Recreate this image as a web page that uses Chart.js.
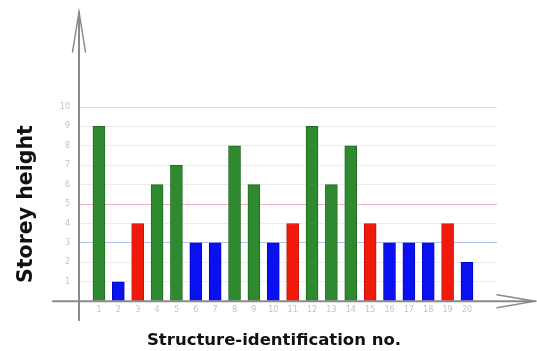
<!DOCTYPE html>
<html>
<head>
<meta charset="utf-8">
<script src="https://cdn.jsdelivr.net/npm/chart.js@4/dist/chart.umd.min.js"></script>
<style>
html,body{margin:0;padding:0;background:#fff;}
#wrap{width:537px;height:351px;position:relative;}
</style>
</head>
<body>
<div id="wrap"><canvas id="c" width="537" height="351"></canvas></div>
<script>
const categories = [1,2,3,4,5,6,7,8,9,10,11,12,13,14,15,16,17,18,19,20];
const storeyHeights = [9,1,4,6,7,3,3,8,6,3,4,9,6,8,4,3,3,3,4,2];
const groups = ['G','B','R','G','G','B','B','G','G','B','R','G','G','G','R','B','B','B','R','B'];
const yTicks = [1,2,3,4,5,6,7,8,9,10];
const xTitle = 'Structure-identification no.';
const yTitle = 'Storey height';

const fillColors = {G:'#2f8a2f', B:'#0a10f0', R:'#f01a0a'};
const edgeColors = {G:'#1f6a1f', B:'#0008c8', R:'#c81008'};
const gridColorFor = v => v === 10 ? '#c6efc6' : v === 5 ? '#f3b3b8' : v === 3 ? '#b3c3ef' : v === 0 ? 'rgba(0,0,0,0)' : '#ececec';

const axesPlugin = {
  id: 'axes',
  afterDraw(chart) {
    const ctx = chart.ctx, a = chart.chartArea;
    const y0 = chart.scales.y.getPixelForValue(0);
    ctx.save();
    ctx.strokeStyle = '#8a8a8a';
    ctx.lineWidth = 2;
    ctx.lineCap = 'round';
    const xa = a.left, topY = a.top - 95;
    ctx.beginPath();
    ctx.moveTo(xa, a.bottom + 19);
    ctx.lineTo(xa, topY);
    ctx.stroke();
    ctx.lineWidth = 1.5;
    ctx.beginPath();
    ctx.moveTo(xa - 6.5, topY + 40); ctx.lineTo(xa, topY); ctx.lineTo(xa + 6.5, topY + 40);
    ctx.stroke();
    ctx.lineWidth = 2;
    const tipX = a.right + 38;
    ctx.beginPath();
    ctx.moveTo(a.left - 26, y0);
    ctx.lineTo(tipX, y0);
    ctx.stroke();
    ctx.lineWidth = 1.5;
    ctx.beginPath();
    ctx.moveTo(tipX - 38, y0 - 6.5); ctx.lineTo(tipX, y0); ctx.lineTo(tipX - 38, y0 + 6.5);
    ctx.stroke();
    ctx.restore();
  }
};

new Chart(document.getElementById('c'), {
  type: 'bar',
  data: {
    datasets: [{
      data: categories.map((c, i) => ({x: c, y: storeyHeights[i]})),
      backgroundColor: groups.map(g => fillColors[g]),
      borderColor: groups.map(g => edgeColors[g]),
      borderWidth: 1,
      barThickness: 12
    }]
  },
  options: {
    responsive: false,
    animation: false,
    layout: {padding: {top: 107, right: 0, left: 11, bottom: 0}},
    plugins: {
      legend: {display: false},
      tooltip: {enabled: false},
      title: {
        display: true, position: 'bottom', text: xTitle, color: '#111',
        font: {family: 'DejaVu Sans', weight: 'bold', size: 16.5}, padding: {top: 0, bottom: 0}
      }
    },
    scales: {
      x: {
        type: 'linear', min: -0.03, max: 21.55, offset: false,
        afterBuildTicks(s) { s.ticks = categories.map(v => ({value: v})); },
        afterFit(s) { s.height = 30; },
        grid: {display: false, drawTicks: false},
        border: {display: false},
        ticks: {color: '#c4c4c4', font: {family: 'DejaVu Sans', size: 8}, padding: 4, maxRotation: 0, autoSkip: false}
      },
      y: {
        min: 0, max: 10,
        afterBuildTicks(s) { s.ticks = [0].concat(yTicks).map(v => ({value: v})); },
        afterFit(s) { s.width = 68; },
        grid: {color: ctx => gridColorFor(ctx.tick.value), lineWidth: 1, drawTicks: false},
        border: {display: false},
        ticks: {color: '#c4c4c4', font: {family: 'DejaVu Sans', size: 8}, padding: 9,
          callback: v => v === 0 ? '' : String(v)},
        title: {display: true, text: yTitle, color: '#111',
          font: {family: 'DejaVu Sans', weight: 'bold', size: 20.5}, padding: {top: 3, bottom: 0}}
      },
      yRight: {
        position: 'right', min: 0, max: 10,
        afterFit(s) { s.width = 40; },
        grid: {display: false, drawTicks: false},
        border: {display: false},
        ticks: {display: false}
      }
    }
  },
  plugins: [axesPlugin]
});
</script>
</body>
</html>
